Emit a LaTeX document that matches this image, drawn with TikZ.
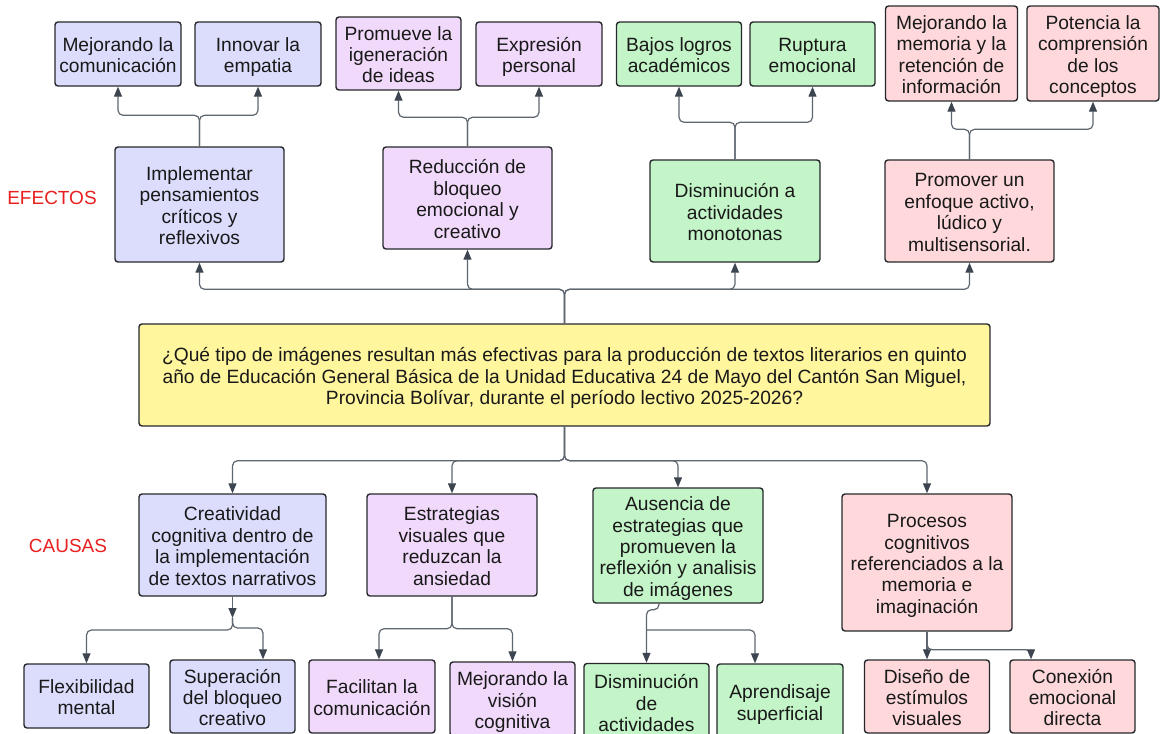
\documentclass[tikz,border=0pt]{standalone}
\usepackage{fontspec}
\setmainfont{Liberation Sans}
\usetikzlibrary{arrows.meta}
\definecolor{cblue}{HTML}{DCDDFD}
\definecolor{cpurp}{HTML}{F1D9FB}
\definecolor{cgreen}{HTML}{C3F5C8}
\definecolor{cred}{HTML}{FED8DA}
\definecolor{cyell}{HTML}{FFF69E}
\definecolor{cbord}{HTML}{26282C}
\definecolor{cline}{HTML}{5E6670}
\definecolor{ctip}{HTML}{3D4550}
\definecolor{clabel}{HTML}{E8201F}
\newcommand{\tst}{\rule{0pt}{20pt}}
\begin{document}
\begin{tikzpicture}[x=1pt,y=-1pt,
  bx/.style={draw=cbord, line width=1.4pt, rounded corners=3pt, align=center, inner sep=0pt,
    font=\fontsize{19.2}{21.4}\selectfont, text=black!90,
    execute at end node={\rule[-4pt]{0pt}{4pt}}},
  arr/.style={draw=cline, line width=1.2pt, rounded corners=5pt,
    -{Triangle[width=8pt,length=10pt,color=ctip]}},
  lbl/.style={text=clabel, font=\fontsize{19}{21}\selectfont}]
\fill[white] (0,0) rectangle (1171,734);
\useasboundingbox (0,0) rectangle (1171,734);
\clip (0,0) rectangle (1171,734);

% top row
\node[bx, fill=cblue, minimum width=126pt, minimum height=64pt] (m1) at (118,54) {\tst Mejorando la\\comunicación};
\node[bx, fill=cblue, minimum width=126pt, minimum height=64pt] (m2) at (258,54) {\tst Innovar la\\empatia};
\node[bx, fill=cpurp, minimum width=125pt, minimum height=73pt] (p1) at (398.5,53.5) {\tst Promueve la\\igeneración\\de ideas};
\node[bx, fill=cpurp, minimum width=126pt, minimum height=64pt] (p2) at (539,54) {\tst Expresión\\personal};
\node[bx, fill=cgreen, minimum width=125pt, minimum height=64pt] (g1) at (679,54) {\tst Bajos logros\\académicos};
\node[bx, fill=cgreen, minimum width=125pt, minimum height=64pt] (g2) at (812.5,54) {\tst Ruptura\\emocional};
\node[bx, fill=cred, minimum width=132pt, minimum height=95pt] (r1) at (951.5,53.5) {\tst Mejorando la\\memoria y la\\retención de\\información};
\node[bx, fill=cred, minimum width=132pt, minimum height=95pt] (r2) at (1093,53.5) {\tst Potencia la\\comprensión\\de los\\conceptos};

% effects
\node[bx, fill=cblue, minimum width=169pt, minimum height=115pt] (E1) at (199.5,204.5) {\tst Implementar\\pensamientos\\críticos y\\reflexivos};
\node[bx, fill=cpurp, minimum width=169pt, minimum height=102pt] (E2) at (467.5,198) {\tst Reducción de\\bloqueo\\emocional y\\creativo};
\node[bx, fill=cgreen, minimum width=170pt, minimum height=102pt] (E3) at (735,211) {\tst Disminución a\\actividades\\monotonas};
\node[bx, fill=cred, minimum width=169pt, minimum height=102pt] (E4) at (969.5,211) {\tst Promover un\\enfoque activo,\\lúdico y\\multisensorial.};

% central question
\node[bx, fill=cyell, minimum width=851pt, minimum height=102pt] (Q) at (564.5,375) {\tst ¿Qué tipo de imágenes resultan más efectivas para la producción de textos literarios en quinto\\año de Educación General Básica de la Unidad Educativa 24 de Mayo del Cantón San Miguel,\\Provincia Bolívar, durante el período lectivo 2025-2026?};

% causes
\node[bx, fill=cblue, minimum width=187pt, minimum height=102pt] (C1) at (232.5,545) {\tst Creatividad\\cognitiva dentro de\\la implementación\\de textos narrativos};
\node[bx, fill=cpurp, minimum width=170pt, minimum height=102pt] (C2) at (452,545) {\tst Estrategias\\visuales que\\reduzcan la\\ansiedad};
\node[bx, fill=cgreen, minimum width=170pt, minimum height=115pt] (C3) at (678,545.5) {\tst Ausencia de\\estrategias que\\promueven la\\reflexión y analisis\\de imágenes};
\node[bx, fill=cred, minimum width=170pt, minimum height=137pt] (C4) at (927,562.5) {\tst Procesos\\cognitivos\\referenciados a la\\memoria e\\imaginación};

% bottom row
\node[bx, fill=cblue, minimum width=125pt, minimum height=64pt] (b1) at (86.5,696) {\tst Flexibilidad\\mental};
\node[bx, fill=cblue, minimum width=125pt, minimum height=73pt] (b2) at (232.5,696.5) {\tst Superación\\del bloqueo\\creativo};
\node[bx, fill=cpurp, minimum width=126pt, minimum height=73pt] (b3) at (372,696.5) {\tst Facilitan la\\comunicación};
\node[bx, fill=cpurp, minimum width=125pt, minimum height=74pt] (b4) at (512.5,699) {\tst Mejorando la\\visión\\cognitiva};
\node[bx, fill=cgreen, minimum width=125pt, minimum height=77pt] (b5) at (646.5,702) {\tst Disminución\\de\\actividades};
\node[bx, fill=cgreen, minimum width=126pt, minimum height=75pt] (b6) at (780,701.5) {\tst Aprendisaje\\superficial};
\node[bx, fill=cred, minimum width=125pt, minimum height=73pt] (b7) at (927,696.5) {\tst Diseño de\\estímulos\\visuales};
\node[bx, fill=cred, minimum width=125pt, minimum height=73pt] (b8) at (1072.5,696.5) {\tst Conexión\\emocional\\directa};

% labels
\node[lbl] (ef) at (52,198) {EFECTOS};
\node[lbl] (ca) at (68,546) {CAUSAS};

% connectors: effects to consequences
\draw[arr] (E1.north) -- ++(0,-31) -| (m1.south);
\draw[arr] (E1.north) -- ++(0,-31) -| (m2.south);
\draw[arr] (E2.north) -- ++(0,-29) -| (p1.south);
\draw[arr] (E2.north) -- ++(0,-29) -| (p2.south);
\draw[arr] (E3.north) -- ++(0,-37) -| (g1.south);
\draw[arr] (E3.north) -- ++(0,-37) -| (g2.south);
\draw[arr] (E4.north) -- ++(0,-30) -| (r1.south);
\draw[arr] (E4.north) -- ++(0,-30) -| (r2.south);

% question to effects
\draw[arr] (Q.north) -- ++(0,-34) -| (E1.south);
\draw[arr] (Q.north) -- ++(0,-34) -| (E2.south);
\draw[arr] (Q.north) -- ++(0,-34) -| (E3.south);
\draw[arr] (Q.north) -- ++(0,-34) -| (E4.south);

% question to causes
\draw[arr] (Q.south) -- ++(0,34) -| (C1.north);
\draw[arr] (Q.south) -- ++(0,34) -| (C2.north);
\draw[arr] (Q.south) -- ++(0,34) -| (C3.north);
\draw[arr] (Q.south) -- ++(0,34) -| (C4.north);

% causes to sub-causes
\coordinate (j1) at (232.5,618);
\draw[arr] (C1.south) -- (j1);
\draw[arr] (j1) -- ++(0,12) -| (b1.north);
\draw[arr] (j1) -- ++(0,10) -| ([xshift=30.5pt]b2.north);
\draw[arr] (C2.south) -- ++(0,32) -| ([xshift=7pt]b3.north);
\draw[arr] (C2.south) -- ++(0,32) -| (b4.north);
\coordinate (j3) at (646.5,630);
\draw[arr] ([xshift=-19pt]C3.south) -- ++(0,6) -| (b5.north);
\draw[arr] (j3) -| ([xshift=-25pt]b6.north);
\draw[arr] (C4.south) -- (b7.north);
\draw[arr] (C4.south) -- ++(0,18) -| ([xshift=-41.5pt]b8.north);
\end{tikzpicture}
\end{document}
